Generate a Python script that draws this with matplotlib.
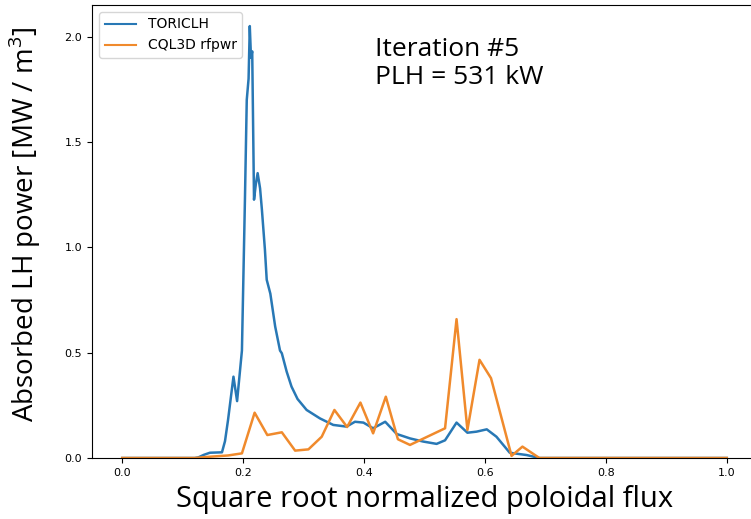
import numpy as np
import matplotlib
matplotlib.use("Agg")
import matplotlib.pyplot as plt

# TORICLH profile
rho_toric = [0.0, 0.12, 0.126, 0.135, 0.145, 0.165, 0.17, 0.175, 0.184, 0.19,
             0.198, 0.203, 0.206, 0.209, 0.211, 0.213, 0.215, 0.218, 0.221, 0.224,
             0.228, 0.231, 0.236, 0.239, 0.245, 0.253, 0.261, 0.264, 0.272, 0.28,
             0.29, 0.305, 0.327, 0.349, 0.371, 0.385, 0.399, 0.415, 0.435, 0.454,
             0.476, 0.498, 0.52, 0.534, 0.553, 0.571, 0.586, 0.603, 0.619, 0.641,
             0.669, 0.69, 1.0]
p_toric = [0.0, 0.0, 0.003, 0.015, 0.025, 0.027, 0.08, 0.18, 0.386, 0.27,
           0.51, 1.23, 1.70, 1.80, 2.05, 1.90, 1.93, 1.226, 1.30, 1.352,
           1.28, 1.18, 0.99, 0.846, 0.78, 0.624, 0.51, 0.497, 0.41, 0.339,
           0.28, 0.228, 0.188, 0.157, 0.149, 0.172, 0.168, 0.141, 0.172, 0.114,
           0.093, 0.078, 0.067, 0.084, 0.168, 0.12, 0.125, 0.136, 0.101, 0.025,
           0.014, 0.0, 0.0]

# CQL3D rfpwr profile
rho_cql = [0.0, 0.12, 0.145, 0.175, 0.198, 0.219, 0.24, 0.264, 0.286, 0.308,
           0.33, 0.351, 0.372, 0.394, 0.415, 0.436, 0.456, 0.476, 0.534, 0.553,
           0.571, 0.591, 0.61, 0.644, 0.662, 0.69, 1.0]
p_cql = [0.0, 0.0, 0.006, 0.012, 0.022, 0.215, 0.109, 0.122, 0.035, 0.041,
         0.101, 0.228, 0.147, 0.263, 0.117, 0.291, 0.089, 0.062, 0.141, 0.659,
         0.133, 0.466, 0.379, 0.01, 0.054, 0.0, 0.0]

plt.rcParams['mathtext.fontset'] = 'custom'
plt.rcParams['mathtext.rm'] = 'Open Sans'

fig = plt.figure(figsize=(7.51, 5.19), dpi=100)
ax = fig.add_axes([92/751, 61/519, 665/751, 453/519])

ax.plot(rho_toric, p_toric, color='#2878b5', lw=1.8, label='TORICLH')
ax.plot(rho_cql, p_cql, color='#f08a2c', lw=1.8, label='CQL3D rfpwr')

ax.set_xlim(-0.05, 1.05)
ax.set_ylim(0, 2.15)
ax.set_xticks(np.arange(0, 1.01, 0.2))
ax.set_yticks(np.arange(0, 2.01, 0.5))
ax.tick_params(labelsize=8)

ax.set_xlabel('Square root normalized poloidal flux', fontsize=21, family='Open Sans', labelpad=5)
ax.set_ylabel('Absorbed LH power [MW / m$^3$]', fontsize=20, family='Open Sans')
ax.yaxis.set_label_coords(-0.074, 0.515)

ax.text(0.418, 2.0, 'Iteration #5\nPLH = 531 kW', fontsize=19, family='Open Sans',
        va='top', ha='left', linespacing=1.2)

leg = ax.legend(loc='upper left', fontsize=10, handlelength=2.3)
for h in leg.get_lines():
    h.set_linewidth(1.5)

fig.savefig('out.png', dpi=100)
